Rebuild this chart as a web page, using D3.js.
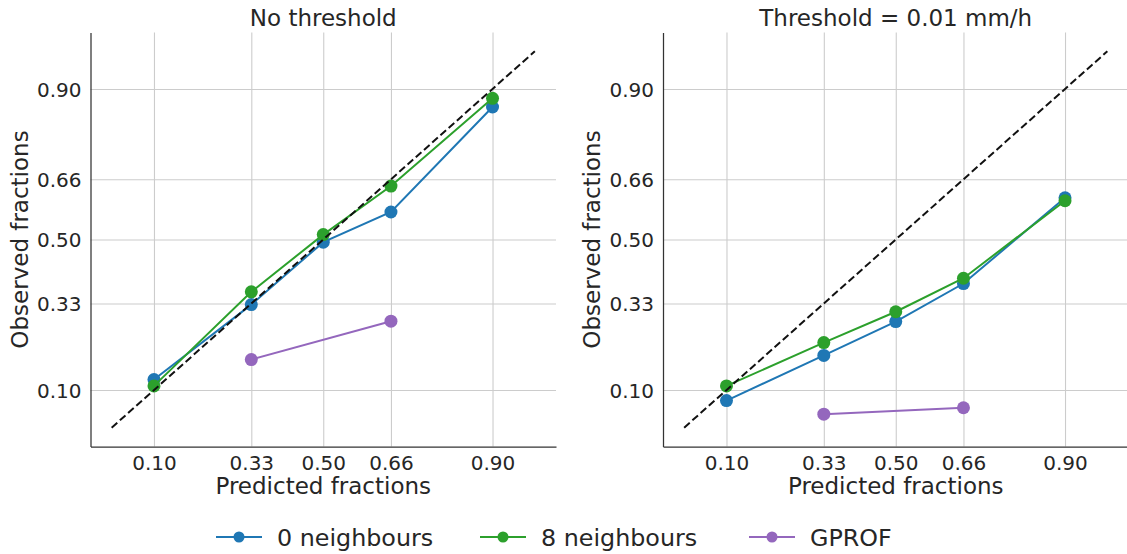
<!DOCTYPE html>
<html>
<head>
<meta charset="utf-8">
<script src="https://cdn.jsdelivr.net/npm/d3@7"></script>
<style>
  body { margin: 0; background: #fff; }
  text { font-family: "DejaVu Sans", sans-serif; fill: #262626; }
</style>
</head>
<body>
<svg width="1127" height="554"></svg>
<script>
var tickValues = [0.10, 0.33, 0.50, 0.66, 0.90];
var predicted = [0.10, 0.33, 0.50, 0.66, 0.90];

// panel 1: no threshold
var noThr0 = [0.128, 0.327, 0.493, 0.573, 0.852];
var noThr8 = [0.111, 0.361, 0.513, 0.642, 0.875];
var noThrGprof = [null, 0.181, null, 0.283, null];

// panel 2: threshold 0.01 mm/h
var thr0 = [0.072, 0.192, 0.282, 0.383, 0.611];
var thr8 = [0.111, 0.226, 0.308, 0.397, 0.603];
var thrGprof = [null, 0.036, null, 0.053, null];

var seriesNames = ["0 neighbours", "8 neighbours", "GPROF"];
var colors = ["#1f77b4", "#2ca02c", "#9467bd"];
var titles = ["No threshold", "Threshold = 0.01 mm/h"];
var panelData = [[noThr0, noThr8, noThrGprof], [thr0, thr8, thrGprof]];

var svg = d3.select("svg");
var plotTop = 32.5, plotBottom = 446.5, pw = 465.5;
var lefts = [90.5, 663];

var y = d3.scaleLinear().domain([-0.05, 1.05]).range([plotBottom, plotTop]);

panelData.forEach(function(series, p) {
  var x = d3.scaleLinear().domain([-0.05, 1.05]).range([lefts[p], lefts[p] + pw]);
  var g = svg.append("g");

  var xa = g.append("g")
      .attr("transform", "translate(0," + plotBottom + ")")
      .call(d3.axisBottom(x).tickValues(tickValues).tickFormat(d3.format(".2f"))
        .tickSize(-(plotBottom - plotTop)).tickSizeOuter(0).tickPadding(9));
  var ya = g.append("g")
      .attr("transform", "translate(" + lefts[p] + ",0)")
      .call(d3.axisLeft(y).tickValues(tickValues).tickFormat(d3.format(".2f"))
        .tickSize(-pw).tickSizeOuter(0).tickPadding(9));

  [xa, ya].forEach(function(a) {
    a.selectAll(".tick line").attr("stroke", "#cccccc").attr("stroke-width", 1.1);
    a.selectAll(".tick text").style("font-size", "20px").attr("fill", "#262626");
    a.select(".domain").attr("stroke", "#333").attr("stroke-width", 1.25).raise();
  });
  ya.selectAll(".tick text").attr("dy", "0.36em");

  var line = d3.line()
      .x(function(d) { return x(d[0]); })
      .y(function(d) { return y(d[1]); });

  series.forEach(function(vals, i) {
    var pts = predicted.map(function(v, j) { return [v, vals[j]]; })
        .filter(function(d) { return d[1] != null; });
    g.append("path")
        .attr("d", line(pts))
        .attr("fill", "none")
        .attr("stroke", colors[i])
        .attr("stroke-width", 2);
    g.selectAll(null)
      .data(pts)
      .enter().append("circle")
        .attr("cx", function(d) { return x(d[0]); })
        .attr("cy", function(d) { return y(d[1]); })
        .attr("r", 6.5)
        .attr("fill", colors[i]);
  });

  g.append("path")
      .attr("d", line([[0, 0], [1, 1]]))
      .attr("fill", "none")
      .attr("stroke", "#111")
      .attr("stroke-width", 2)
      .attr("stroke-dasharray", "7.5,3.5");

  g.append("text")
      .attr("x", lefts[p] + pw / 2)
      .attr("y", 26)
      .attr("text-anchor", "middle")
      .style("font-size", "23px")
      .text(titles[p]);

  g.append("text")
      .attr("x", lefts[p] + pw / 2)
      .attr("y", 494)
      .attr("text-anchor", "middle")
      .style("font-size", "23px")
      .text("Predicted fractions");

  g.append("text")
      .attr("transform", "translate(" + (lefts[p] - 63) + "," + ((plotTop + plotBottom) / 2) + ") rotate(-90)")
      .attr("text-anchor", "middle")
      .style("font-size", "23px")
      .text("Observed fractions");
});

// legend
var legendX = [216, 480, 749];
var legend = svg.append("g").selectAll("g")
  .data(seriesNames)
  .enter().append("g")
    .attr("transform", function(d, i) { return "translate(" + legendX[i] + ",537)"; });
legend.append("line")
    .attr("x1", 0).attr("x2", 46)
    .attr("stroke", function(d, i) { return colors[i]; })
    .attr("stroke-width", 2);
legend.append("circle")
    .attr("cx", 23).attr("r", 5.5)
    .attr("fill", function(d, i) { return colors[i]; });
legend.append("text")
    .attr("x", 61)
    .attr("dy", "0.36em")
    .style("font-size", "23.8px")
    .text(function(d) { return d; });
</script>
</body>
</html>
